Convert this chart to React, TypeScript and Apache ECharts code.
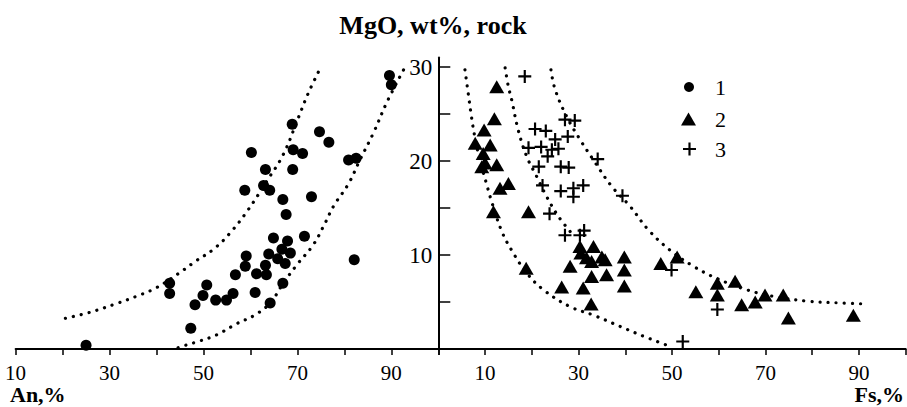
import React, { useEffect, useRef } from "react";
import * as echarts from "echarts";

// ---- data ----
const anTicks = [10, 30, 50, 70, 90];
const fsTicks = [10, 30, 50, 70, 90];
const mgoTicks = [10, 20, 30];

// series 1: An (%) vs MgO (wt%)
const series1An = [25, 47.3, 48.2, 49.9, 50.7, 52.6, 54.9, 56.3, 56.8, 42.8, 42.8, 58.8, 58.9, 59.1, 60.2, 61.0, 61.3, 62.8, 63.2, 63.2, 63.4, 63.9, 64.1, 64.2, 64.9, 65.8, 66.7, 66.9, 66.9, 67.4, 67.6, 67.9, 68.5, 68.9, 69.0, 69.1, 71.1, 71.5, 73.0, 74.7, 76.7, 80.9, 82.5, 82.1, 89.6, 90.0];
const series1MgO = [0.4, 2.2, 4.7, 5.7, 6.8, 5.2, 5.2, 5.9, 7.9, 7.0, 5.9, 16.9, 8.8, 9.9, 20.9, 6.0, 8.0, 17.4, 19.1, 8.9, 7.9, 10.1, 16.9, 4.9, 11.8, 9.6, 10.6, 15.9, 7.0, 9.1, 14.3, 11.5, 10.2, 23.9, 19.1, 21.2, 20.8, 12.0, 16.2, 23.1, 22.0, 20.1, 20.3, 9.5, 29.1, 28.1];

// series 2: Fs (%) vs MgO (wt%)
const series2Fs = [12.5, 12.0, 9.8, 7.9, 11.1, 9.6, 10.0, 12.5, 9.3, 15.0, 13.2, 11.8, 19.3, 18.8, 26.4, 31.0, 32.7, 28.2, 30.3, 33.2, 30.5, 31.7, 35.0, 35.7, 32.8, 32.8, 36.0, 39.8, 39.8, 39.8, 47.6, 51.1, 55.1, 59.7, 59.7, 63.5, 64.9, 67.8, 69.9, 73.8, 74.9, 88.8];
const series2MgO = [27.9, 24.5, 23.3, 21.9, 21.7, 20.8, 19.8, 19.6, 19.4, 17.6, 17.1, 14.6, 14.6, 8.6, 6.6, 6.5, 4.8, 8.8, 10.9, 10.9, 10.2, 9.7, 9.8, 9.5, 9.3, 7.7, 7.9, 9.8, 8.4, 6.7, 9.1, 9.8, 6.1, 7.0, 5.75, 7.2, 4.7, 5.0, 5.75, 5.75, 3.3, 3.6];

// series 3: Fs (%) vs MgO (wt%)
const series3Fs = [18.5, 27.1, 29.2, 20.7, 23.0, 25.0, 27.7, 19.3, 22.0, 24.3, 25.7, 23.4, 21.5, 26.2, 27.9, 34.1, 22.3, 26.2, 28.9, 31.0, 28.9, 39.4, 23.8, 27.1, 30.3, 31.2, 49.9, 59.7, 52.3];
const series3MgO = [29.0, 24.4, 24.3, 23.4, 23.2, 22.3, 22.6, 21.4, 21.5, 21.2, 21.3, 20.5, 19.4, 19.4, 19.3, 20.2, 17.4, 16.8, 17.1, 17.4, 16.2, 16.3, 14.4, 12.1, 12.1, 12.6, 8.4, 4.2, 0.8];

// dotted boundary curves
const leftUpperX = [20.6, 25.8, 31.3, 35.7, 39.9, 44.6, 48.5, 52.1, 55.6, 59.5, 63.4, 67.0, 70.2, 72.3, 75.0];
const leftUpperY = [3.27, 3.9, 4.8, 5.6, 6.5, 8.0, 9.4, 10.6, 12.3, 14.8, 17.8, 20.7, 24.6, 27.2, 30.0];
const leftLowerX = [44.6, 46.4, 49.2, 52.8, 57.1, 60.9, 64.2, 67.0, 69.8, 73.4, 75.9, 77.7, 80.9, 83.3, 86.2, 89.0, 92.6];
const leftLowerY = [0.14, 0.43, 0.85, 1.5, 2.7, 3.6, 4.9, 7.0, 8.9, 11.1, 13.4, 15.2, 17.6, 20.1, 23.0, 26.2, 29.7];
const rightAX = [5.7, 6.4, 7.1, 7.8, 8.9, 10.3, 11.4, 13.6, 15.7, 18.9, 22.5, 28.2, 33.2, 38.9, 43.2, 48.9];
const rightAY = [29.7, 27.2, 24.7, 22.6, 20.1, 17.6, 15.7, 12.5, 10.5, 8.1, 6.3, 4.5, 3.6, 2.4, 1.5, 0.4];
const rightBX = [14.3, 15.0, 15.7, 17.1, 18.9, 21.0, 23.2, 25.7, 28.2];
const rightBY = [29.9, 27.9, 26.5, 23.3, 20.5, 18.4, 16.2, 14.1, 12.5];
const rightCX = [24.1, 25.0, 27.5, 30.3, 33.2, 37.1, 41.0, 44.9, 49.6, 54.6, 59.6, 66.0, 71.7, 78.8, 85.9, 91.3];
const rightCY = [29.7, 27.6, 24.7, 22.3, 20.1, 17.3, 15.2, 12.7, 10.5, 8.8, 7.5, 6.3, 5.6, 5.1, 4.9, 4.8];

const zip = (a: number[], b: number[]) => a.map((v, i) => [v, b[i]]);

const SERIF = "Liberation Serif, Times New Roman, serif";
const PLUS = "path://M5,0h2v5h5v2h-5v5h-2v-5h-5v-2h5z";

export default function App() {
  const ref = useRef<HTMLDivElement>(null);
  useEffect(() => {
    if (!ref.current) return;
    const chart = echarts.init(ref.current, undefined, { renderer: "svg" });

    const top = 57.6;
    const height = 291.4;
    const dotted = {
      color: "#000",
      width: 3.2,
      type: [0.1, 8] as any,
      cap: "round" as any,
    };
    const curve = (x: number[], y: number[], idx: number) => ({
      type: "line",
      xAxisIndex: idx,
      yAxisIndex: idx,
      data: zip(x, y),
      smooth: 0.4,
      showSymbol: false,
      symbol: "none",
      lineStyle: dotted,
      silent: true,
      z: 1,
    });

    const xAxisCommon = {
      type: "value",
      interval: 10,
      axisLine: { show: true, lineStyle: { color: "#000", width: 2 } },
      axisTick: { show: true, length: 6, lineStyle: { color: "#000", width: 1.5 } },
      splitLine: { show: false },
    };

    const solid = { color: "#000", opacity: 1 };

    const option: any = {
      animation: false,
      backgroundColor: "#fff",
      grid: [
        { left: 15.6, top, width: 422.7, height },
        { left: 438.3, top, width: 467.4, height },
      ],
      xAxis: [
        {
          ...xAxisCommon,
          gridIndex: 0,
          min: 10,
          max: 100,
          axisLabel: {
            customValues: anTicks,
            formatter: (v: number) => (anTicks.includes(v) ? String(v) : ""),
            color: "#000",
            fontFamily: SERIF,
            fontSize: 21,
            margin: 13,
          },
        },
        {
          ...xAxisCommon,
          gridIndex: 1,
          min: 0,
          max: 100,
          axisLabel: {
            customValues: fsTicks,
            formatter: (v: number) => (fsTicks.includes(v) ? String(v) : ""),
            color: "#000",
            fontFamily: SERIF,
            fontSize: 21,
            margin: 13,
          },
        },
      ],
      yAxis: [
        {
          type: "value",
          gridIndex: 0,
          min: 0,
          max: 31,
          show: false,
          splitLine: { show: false },
        },
        {
          type: "value",
          gridIndex: 1,
          min: 0,
          max: 31,
          interval: 5,
          position: "left",
          axisLine: { show: true, lineStyle: { color: "#000", width: 2 } },
          axisTick: {
            show: true,
            inside: true,
            length: 12,
            customValues: [5, 10, 15, 20, 25, 30],
            lineStyle: { color: "#000", width: 1.5 },
          },
          axisLabel: {
            customValues: mgoTicks,
            formatter: (v: number) => (mgoTicks.includes(v) ? String(v) : ""),
            color: "#000",
            fontFamily: SERIF,
            fontSize: 23,
            margin: 6,
          },
          splitLine: { show: false },
        },
      ],
      legend: [
        {
          data: ["1"],
          orient: "vertical",
          left: 684,
          top: 76,
          padding: 0,
          itemWidth: 10,
          itemHeight: 10,
          selectedMode: false,
          itemStyle: { opacity: 1 },
          textStyle: { color: "#000", fontFamily: SERIF, fontSize: 22, padding: [0, 0, 0, 16] },
        },
        {
          data: ["2"],
          orient: "vertical",
          left: 681,
          top: 108,
          padding: 0,
          itemWidth: 15,
          itemHeight: 13,
          selectedMode: false,
          itemStyle: { opacity: 1 },
          textStyle: { color: "#000", fontFamily: SERIF, fontSize: 22, padding: [0, 0, 0, 14] },
        },
        {
          data: ["3"],
          orient: "vertical",
          left: 683,
          top: 138,
          padding: 0,
          itemWidth: 13,
          itemHeight: 13,
          selectedMode: false,
          itemStyle: { opacity: 1 },
          textStyle: { color: "#000", fontFamily: SERIF, fontSize: 22, padding: [0, 0, 0, 14] },
        },
      ],
      graphic: [
        {
          type: "text",
          x: 433,
          y: 25,
          style: {
            text: "MgO, wt%, rock",
            fill: "#000",
            font: `bold 26px ${SERIF}`,
            align: "center",
            verticalAlign: "middle",
          },
        },
        {
          type: "text",
          x: 10,
          y: 394,
          style: {
            text: "An,%",
            fill: "#000",
            font: `bold 22px ${SERIF}`,
            align: "left",
            verticalAlign: "middle",
          },
        },
        {
          type: "text",
          x: 904,
          y: 394,
          style: {
            text: "Fs,%",
            fill: "#000",
            font: `bold 22px ${SERIF}`,
            align: "right",
            verticalAlign: "middle",
          },
        },
      ],
      series: [
        curve(leftUpperX, leftUpperY, 0),
        curve(leftLowerX, leftLowerY, 0),
        curve(rightAX, rightAY, 1),
        curve(rightBX, rightBY, 1),
        curve(rightCX, rightCY, 1),
        {
          name: "1",
          type: "scatter",
          xAxisIndex: 0,
          yAxisIndex: 0,
          symbol: "circle",
          symbolSize: 11,
          itemStyle: solid,
          data: zip(series1An, series1MgO),
          z: 3,
        },
        {
          name: "2",
          type: "scatter",
          xAxisIndex: 1,
          yAxisIndex: 1,
          symbol: "triangle",
          symbolSize: [15, 13],
          itemStyle: solid,
          data: zip(series2Fs, series2MgO),
          z: 3,
        },
        {
          name: "3",
          type: "scatter",
          xAxisIndex: 1,
          yAxisIndex: 1,
          symbol: PLUS,
          symbolSize: 13,
          itemStyle: solid,
          data: zip(series3Fs, series3MgO),
          z: 3,
        },
      ],
    };

    chart.setOption(option);
    return () => chart.dispose();
  }, []);

  return (
    <div
      ref={ref}
      style={{ position: "absolute", left: 0, top: 0, width: 907, height: 407 }}
    />
  );
}
